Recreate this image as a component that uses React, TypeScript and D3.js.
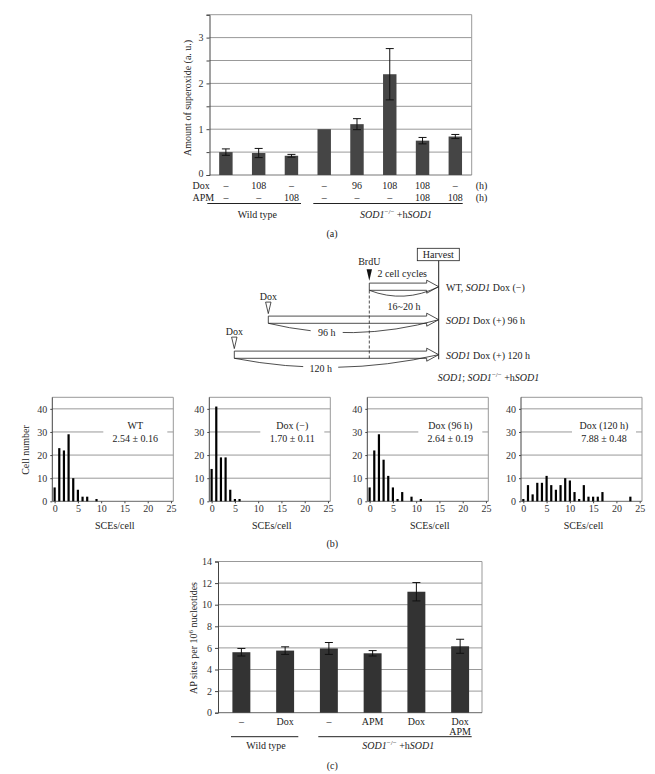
import React, { useEffect, useRef } from "react";
import * as d3 from "d3";

// (a) superoxide
const supDox = ["–", "108", "–", "–", "96", "108", "108", "–"];
const supApm = ["–", "–", "108", "–", "–", "–", "108", "108"];
const supValues = [0.5, 0.48, 0.42, 1.0, 1.11, 2.2, 0.75, 0.84];
const supErrors = [0.07, 0.1, 0.03, 0, 0.12, 0.56, 0.07, 0.045];

// (b) SCE histograms (cells per SCE count, starting at 0)
const sceTitles = ["WT", "Dox (−)", "Dox (96 h)", "Dox (120 h)"];
const sceMeans = ["2.54 ± 0.16", "1.70 ± 0.11", "2.64 ± 0.19", "7.88 ± 0.48"];
const sceWT = [6, 23, 22, 29, 10, 5, 2, 2, 0, 1];
const sceDoxMinus = [14, 41, 19, 19, 5, 1, 1];
const sceDox96 = [6, 22, 29, 18, 11, 6, 1, 4, 0, 2, 0, 1];
const sceDox120 = [1, 7, 3, 8, 8, 11, 7, 5, 7, 10, 9, 4, 1, 7, 2, 2, 2, 4, 0, 0, 0, 0, 0, 2];
const sceXTicks = [0, 5, 10, 15, 20, 25];
const sceYTicks = [0, 10, 20, 30, 40];

// (c) AP sites
const apLabels = [["–"], ["Dox"], ["–"], ["APM"], ["Dox"], ["Dox", "APM"]];
const apValues = [5.6, 5.75, 5.95, 5.5, 11.2, 6.15];
const apErrors = [0.35, 0.35, 0.55, 0.25, 0.85, 0.65];

const font = "'Liberation Serif', 'Times New Roman', serif";

const App: React.FC = () => {
  const ref = useRef<SVGSVGElement | null>(null);

  useEffect(() => {
    if (!ref.current) return;
    const svg = d3.select(ref.current);
    svg.selectAll("*").remove();
    svg.attr("font-family", font).attr("font-size", 10).attr("fill", "#222");

    const styleAxis = (g: any) => {
      g.attr("font-family", font).attr("font-size", 10);
      g.select(".domain").attr("stroke", "#444");
      g.selectAll(".tick line").attr("stroke", "#444");
      g.selectAll(".tick text").attr("fill", "#333");
    };

    const sodLabel = (parent: any, x: number, y: number, prefix = "") => {
      const t = parent.append("text").attr("x", x).attr("y", y).attr("dy", "0.35em").attr("text-anchor", "middle");
      if (prefix) {
        t.append("tspan").attr("font-style", "italic").text("SOD1");
        t.append("tspan").text("; ");
      }
      t.append("tspan").attr("font-style", "italic").text("SOD1");
      t.append("tspan").attr("font-size", 7).attr("dy", -4).text("−/−");
      t.append("tspan").attr("dy", 4).text(" +h");
      t.append("tspan").attr("font-style", "italic").text("SOD1");
    };

    const errorBars = (g: any, xs: number[], vals: number[], errs: number[], y: any) => {
      vals.forEach((v, i) => {
        const e = errs[i];
        if (!e) return;
        const cx = xs[i];
        g.append("line").attr("x1", cx).attr("x2", cx).attr("y1", y(v - e)).attr("y2", y(v + e)).attr("stroke", "#111");
        [v - e, v + e].forEach(b =>
          g.append("line").attr("x1", cx - 4).attr("x2", cx + 4).attr("y1", y(b)).attr("y2", y(b)).attr("stroke", "#111")
        );
      });
    };

    // ---------- (a) ----------
    const ga = svg.append("g");
    const aLeft = 209.5, aRight = 471.7;
    const xA = d3.scaleBand<number>().domain(d3.range(supValues.length)).range([aLeft, aRight]).paddingInner(0.59).paddingOuter(0.295);
    const yA = d3.scaleLinear().domain([0, 3.5]).range([175, 14.7]);

    d3.range(0.5, 3.01, 0.5).forEach(v =>
      ga.append("line").attr("x1", aLeft).attr("x2", aRight).attr("y1", yA(v)).attr("y2", yA(v)).attr("stroke", "#999")
    );
    ga.append("path").attr("d", `M${aLeft},${yA(3.5)}H${aRight}V${yA(0)}`).attr("fill", "none").attr("stroke", "#999");
    ga.append("line").attr("x1", aLeft).attr("x2", aRight).attr("y1", yA(0)).attr("y2", yA(0)).attr("stroke", "#777");
    const axA = ga.append("g").attr("transform", `translate(${aLeft},0)`)
      .call(d3.axisLeft(yA).tickValues(d3.range(0, 3.51, 0.5)).tickSize(3).tickFormat((d: any) => (Number.isInteger(+d) && +d < 3.5 ? String(d) : "")));
    styleAxis(axA);
    axA.selectAll(".tick text").filter((d: any) => +d === 0).attr("dy", "0.1em");

    ga.selectAll("rect.bar").data(supValues).enter().append("rect")
      .attr("x", (_d, i) => xA(i)!)
      .attr("width", xA.bandwidth())
      .attr("y", d => yA(d))
      .attr("height", d => yA(0) - yA(d))
      .attr("fill", "#454545");
    errorBars(ga, supValues.map((_d, i) => xA(i)! + xA.bandwidth() / 2), supValues, supErrors, yA);

    ga.append("text").attr("transform", `translate(187,${(yA(0) + yA(3.5)) / 2 + 3}) rotate(-90)`)
      .attr("text-anchor", "middle").attr("dy", "0.35em").text("Amount of superoxide (a. u.)");

    const doxY = 185, apmY = 197.8;
    ga.append("text").attr("x", 192.5).attr("y", doxY).attr("dy", "0.35em").text("Dox");
    ga.append("text").attr("x", 192.5).attr("y", apmY).attr("dy", "0.35em").text("APM");
    supDox.forEach((s, i) =>
      ga.append("text").attr("x", xA(i)! + xA.bandwidth() / 2).attr("y", doxY).attr("dy", "0.35em").attr("text-anchor", "middle").text(s)
    );
    supApm.forEach((s, i) =>
      ga.append("text").attr("x", xA(i)! + xA.bandwidth() / 2).attr("y", apmY).attr("dy", "0.35em").attr("text-anchor", "middle").text(s)
    );
    ga.append("text").attr("x", 481.5).attr("y", doxY).attr("dy", "0.35em").attr("text-anchor", "middle").text("(h)");
    ga.append("text").attr("x", 481.5).attr("y", apmY).attr("dy", "0.35em").attr("text-anchor", "middle").text("(h)");
    ga.append("line").attr("x1", 207.3).attr("x2", 301).attr("y1", 203.5).attr("y2", 203.5).attr("stroke", "#222");
    ga.append("line").attr("x1", 313.3).attr("x2", 462.7).attr("y1", 203.5).attr("y2", 203.5).attr("stroke", "#222");
    ga.append("text").attr("x", 257.3).attr("y", 214).attr("dy", "0.35em").attr("text-anchor", "middle").text("Wild type");
    sodLabel(ga, 396, 214);
    ga.append("text").attr("x", 332).attr("y", 233.3).attr("dy", "0.35em").attr("text-anchor", "middle").text("(a)");

    // ---------- (b) schema ----------
    const gs = svg.append("g");
    const harvestX = 438.7;
    const brduX = 369.3;
    gs.append("rect").attr("x", 417.3).attr("y", 248.3).attr("width", 42).attr("height", 12.4).attr("fill", "#fff").attr("stroke", "#222").attr("stroke-width", 0.8);
    gs.append("text").attr("x", 438.3).attr("y", 254.5).attr("dy", "0.35em").attr("text-anchor", "middle").text("Harvest");
    gs.append("line").attr("x1", harvestX).attr("x2", harvestX).attr("y1", 260.7).attr("y2", 359.3).attr("stroke", "#222");
    gs.append("line").attr("x1", brduX).attr("x2", brduX).attr("y1", 290.5).attr("y2", 358.3).attr("stroke", "#222").attr("stroke-dasharray", "3,2").attr("stroke-width", 0.8);
    gs.append("text").attr("x", brduX).attr("y", 261.7).attr("dy", "0.35em").attr("text-anchor", "middle").text("BrdU");
    gs.append("path").attr("d", `M${brduX - 2.7},269.3H${brduX + 2.7}L${brduX},280.7Z`).attr("fill", "#111");
    gs.append("text").attr("x", 402.3).attr("y", 273.3).attr("dy", "0.35em").attr("text-anchor", "middle").text("2 cell cycles");

    const regimens = [
      { x0: brduX, yMid: 286.7, ctrl: 17, dur: "16~20 h", durX: 404, durY: 306.7, bg: 0, dox: false, label: "WT, |SOD1| Dox (−)" },
      { x0: 268.3, yMid: 319.7, ctrl: 24, dur: "96 h", durX: 326.7, durY: 332.3, bg: 32, dox: true, label: "|SOD1| Dox (+) 96 h" },
      { x0: 234.3, yMid: 354.7, ctrl: 23.4, dur: "120 h", durX: 320.7, durY: 368.3, bg: 35, dox: true, label: "|SOD1| Dox (+) 120 h" },
    ];
    regimens.forEach(r => {
      const bh = 3.6, hh = 6.5, hl = 12;
      gs.append("path")
        .attr("d", `M${r.x0},${r.yMid + bh} Q${(r.x0 + harvestX) / 2},${r.yMid + r.ctrl} ${harvestX},${r.yMid}`)
        .attr("fill", "none").attr("stroke", "#222").attr("stroke-width", 0.8);
      gs.append("path")
        .attr("d", `M${r.x0},${r.yMid - bh}H${harvestX - hl}V${r.yMid - hh}L${harvestX},${r.yMid}L${harvestX - hl},${r.yMid + hh}V${r.yMid + bh}H${r.x0}Z`)
        .attr("fill", "none").attr("stroke", "#222").attr("stroke-width", 0.8);
      if (r.bg) {
        gs.append("rect").attr("x", r.durX - r.bg / 2).attr("y", r.durY - 6).attr("width", r.bg).attr("height", 12).attr("fill", "#fff");
      }
      gs.append("text").attr("x", r.durX).attr("y", r.durY).attr("dy", "0.35em").attr("text-anchor", "middle").text(r.dur);
      if (r.dox) {
        const tipY = r.yMid - bh - 2.5;
        gs.append("text").attr("x", r.x0).attr("y", tipY - 17).attr("dy", "0.35em").attr("text-anchor", "middle").text("Dox");
        gs.append("path").attr("d", `M${r.x0 - 2.7},${tipY - 11.5}H${r.x0 + 2.7}L${r.x0},${tipY}Z`).attr("fill", "#fff").attr("stroke", "#222").attr("stroke-width", 0.8);
      }
      const t = gs.append("text").attr("x", 446).attr("y", r.yMid + 1).attr("dy", "0.35em");
      r.label.split("|").forEach((part, k) => {
        t.append("tspan").attr("font-style", k === 1 ? "italic" : "normal").text(part);
      });
    });
    sodLabel(gs, 488.5, 377, "pre");

    // ---------- (b) histograms ----------
    const gh = svg.append("g");
    const sceSeries = [sceWT, sceDoxMinus, sceDox96, sceDox120];
    const panelLefts = [52.3, 209.3, 367.3, 521];
    const pW = 121;
    const yH = d3.scaleLinear().domain([0, 45]).range([501.3, 397.3]);
    sceSeries.forEach((series, p) => {
      const L = panelLefts[p];
      const g = gh.append("g");
      const xH = d3.scaleLinear().domain([-0.5, 25.5]).range([L, L + pW]);
      sceYTicks.slice(1).forEach(v =>
        g.append("line").attr("x1", L).attr("x2", L + pW).attr("y1", yH(v)).attr("y2", yH(v)).attr("stroke", "#999")
      );
      g.append("path").attr("d", `M${L},${yH(45)}H${L + pW}V${yH(0)}`).attr("fill", "none").attr("stroke", "#999");
      g.append("line").attr("x1", L).attr("x2", L + pW).attr("y1", yH(0)).attr("y2", yH(0)).attr("stroke", "#666");
      const ay = g.append("g").attr("transform", `translate(${L},0)`).call(d3.axisLeft(yH).tickValues(sceYTicks).tickSize(2).tickSizeOuter(0));
      styleAxis(ay);
      ay.select(".domain").attr("d", `M0,${yH(45)}V${yH(0)}`);
      const ax = g.append("g").attr("transform", `translate(0,${yH(0)})`).call(d3.axisBottom(xH).tickValues(sceXTicks).tickSize(2).tickPadding(2).tickSizeOuter(0));
      styleAxis(ax);
      ax.select(".domain").remove();
      g.selectAll("rect.bin").data(series).enter().append("rect")
        .attr("x", (_d, i) => xH(i) - 1.1)
        .attr("width", 2.2)
        .attr("y", d => yH(d))
        .attr("height", d => yH(0) - yH(d))
        .attr("fill", "#000");
      g.append("rect").attr("x", L + 51).attr("y", 418).attr("width", 64).attr("height", 27).attr("fill", "#fff");
      g.append("text").attr("x", L + 83).attr("y", 425.5).attr("dy", "0.35em").attr("text-anchor", "middle").text(sceTitles[p]);
      g.append("text").attr("x", L + 83).attr("y", 438).attr("dy", "0.35em").attr("text-anchor", "middle").text(sceMeans[p]);
      g.append("text").attr("x", L + pW / 2 + 2).attr("y", 525).attr("dy", "0.35em").attr("text-anchor", "middle").text("SCEs/cell");
    });
    gh.append("text").attr("transform", "translate(25.7,450) rotate(-90)").attr("text-anchor", "middle").attr("dy", "0.35em").text("Cell number");
    gh.append("text").attr("x", 332.3).attr("y", 543.3).attr("dy", "0.35em").attr("text-anchor", "middle").text("(b)");

    // ---------- (c) ----------
    const gc = svg.append("g");
    const cLeft = 218, cRight = 482;
    const xC = d3.scaleBand<number>().domain(d3.range(apValues.length)).range([cLeft + 1.5, cRight]).paddingInner(0.59).paddingOuter(0.295);
    const yC = d3.scaleLinear().domain([0, 14]).range([712.7, 561.5]);
    d3.range(2, 12.1, 2).forEach(v =>
      gc.append("line").attr("x1", cLeft).attr("x2", cRight).attr("y1", yC(v)).attr("y2", yC(v)).attr("stroke", "#999")
    );
    gc.append("path").attr("d", `M${cLeft},${yC(14)}H${cRight}V${yC(0)}`).attr("fill", "none").attr("stroke", "#999");
    gc.append("line").attr("x1", cLeft).attr("x2", cRight).attr("y1", yC(0)).attr("y2", yC(0)).attr("stroke", "#666");
    const axC = gc.append("g").attr("transform", `translate(${cLeft},0)`)
      .call(d3.axisLeft(yC).tickValues(d3.range(0, 14.1, 2)).tickSize(3));
    styleAxis(axC);
    gc.selectAll("rect.bar").data(apValues).enter().append("rect")
      .attr("x", (_d, i) => xC(i)!)
      .attr("width", xC.bandwidth())
      .attr("y", d => yC(d))
      .attr("height", d => yC(0) - yC(d))
      .attr("fill", "#333");
    errorBars(gc, apValues.map((_d, i) => xC(i)! + xC.bandwidth() / 2), apValues, apErrors, yC);

    const yt = gc.append("text").attr("transform", `translate(193.3,638) rotate(-90)`).attr("text-anchor", "middle").attr("dy", "0.35em");
    yt.append("tspan").text("AP sites per 10");
    yt.append("tspan").attr("font-size", 7).attr("dy", -4).text("6");
    yt.append("tspan").attr("dy", 4).text(" nucleotides");

    apLabels.forEach((lines, i) => {
      lines.forEach((s, k) =>
        gc.append("text").attr("x", xC(i)! + xC.bandwidth() / 2).attr("y", 721.7 + k * 10).attr("dy", "0.35em").attr("text-anchor", "middle").text(s)
      );
    });
    gc.append("line").attr("x1", 231).attr("x2", 298.3).attr("y1", 736.7).attr("y2", 736.7).attr("stroke", "#222");
    gc.append("line").attr("x1", 318.3).attr("x2", 471.7).attr("y1", 736.7).attr("y2", 736.7).attr("stroke", "#222");
    gc.append("text").attr("x", 266).attr("y", 745.5).attr("dy", "0.35em").attr("text-anchor", "middle").text("Wild type");
    sodLabel(gc, 398.3, 745.5);
    gc.append("text").attr("x", 332.3).attr("y", 765).attr("dy", "0.35em").attr("text-anchor", "middle").text("(c)");
  }, []);

  return (
    <svg
      ref={ref}
      width={655}
      height={774}
      style={{ position: "absolute", left: 0, top: 0, background: "#fff" }}
    />
  );
};

export default App;
